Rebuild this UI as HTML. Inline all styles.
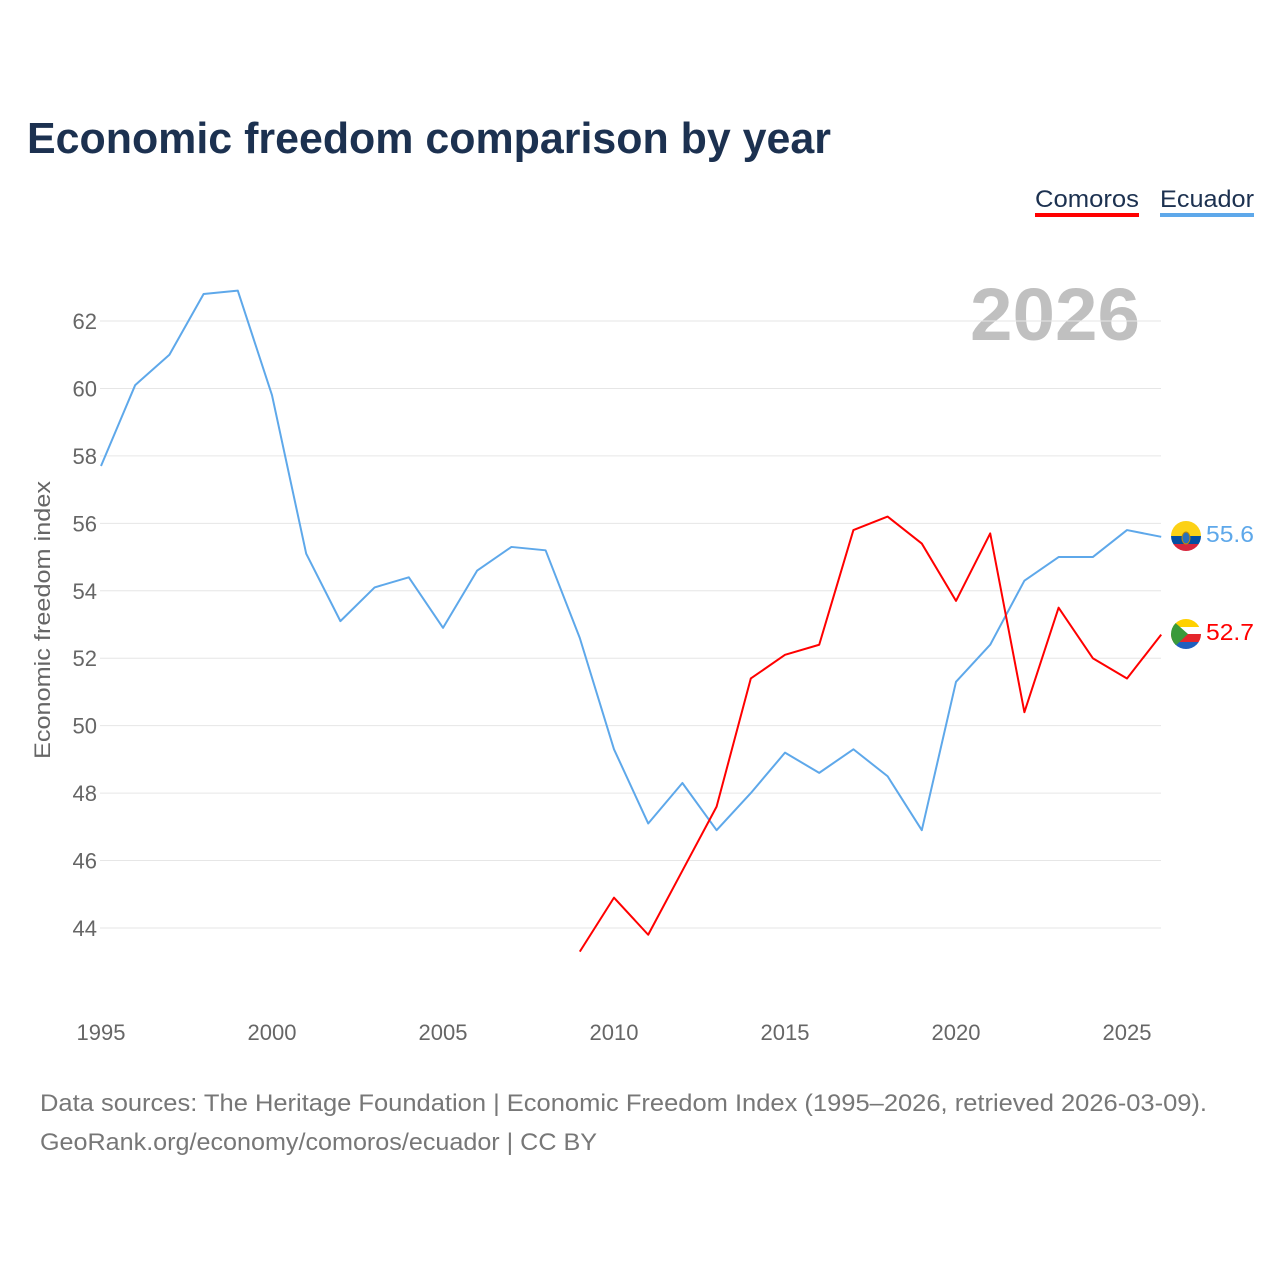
<!DOCTYPE html>
<html><head><meta charset="utf-8"><style>
body{margin:0;background:#fff;font-family:"Liberation Sans",sans-serif;}
svg{display:block}
</style></head><body>
<svg id="chart" width="1280" height="1280">
<text x="27" y="153" font-size="44" font-weight="bold" fill="#1c3150" textLength="804" lengthAdjust="spacingAndGlyphs">Economic freedom comparison by year</text>
<g>
<text x="1035" y="207" font-size="24" fill="#1c3150" textLength="104" lengthAdjust="spacingAndGlyphs">Comoros</text>
<rect x="1035" y="213" width="104" height="4" fill="#ff0000"/>
<text x="1160" y="207" font-size="24" fill="#1c3150" textLength="94" lengthAdjust="spacingAndGlyphs">Ecuador</text>
<rect x="1160" y="213" width="94" height="4" fill="#5ea8ea"/>
</g>
<text x="1140" y="340" font-size="74" font-weight="bold" fill="#c0c0c0" text-anchor="end" textLength="170" lengthAdjust="spacingAndGlyphs">2026</text>
<text transform="translate(50,620) rotate(-90)" font-size="22" fill="#666" text-anchor="middle" textLength="278" lengthAdjust="spacingAndGlyphs">Economic freedom index</text>
<g id="grid"></g><g id="lines"></g>
<g>
<clipPath id="c1"><circle cx="1186" cy="536" r="15"/></clipPath>
<g clip-path="url(#c1)"><rect x="1171" y="521" width="30" height="15" fill="#fcd116"/><rect x="1171" y="536" width="30" height="8" fill="#034ea2"/><rect x="1171" y="544" width="30" height="8" fill="#d7263d"/></g>
<ellipse cx="1186" cy="538" rx="4" ry="6" fill="#2a6fbb" stroke="#c58a00"/>
</g>
<g>
<clipPath id="c2"><circle cx="1186" cy="634" r="15"/></clipPath>
<g clip-path="url(#c2)"><rect x="1171" y="619" width="30" height="8" fill="#ffd100"/><rect x="1171" y="627" width="30" height="7" fill="#fff"/><rect x="1171" y="634" width="30" height="8" fill="#e4262c"/><rect x="1171" y="642" width="30" height="8" fill="#1f5fbf"/><polygon points="1171,619 1188,634 1171,650" fill="#3a9a3a"/></g>
</g>
<text x="1206" y="542" font-size="23" fill="#5ea8ea" textLength="48" lengthAdjust="spacingAndGlyphs">55.6</text>
<text x="1206" y="640" font-size="23" fill="#ff0000" textLength="48" lengthAdjust="spacingAndGlyphs">52.7</text>
<text x="40" y="1111" font-size="24" fill="#777" textLength="1167" lengthAdjust="spacingAndGlyphs">Data sources: The Heritage Foundation | Economic Freedom Index (1995–2026, retrieved 2026-03-09).</text>
<text x="40" y="1150" font-size="24" fill="#777" textLength="557" lengthAdjust="spacingAndGlyphs">GeoRank.org/economy/comoros/ecuador | CC BY</text>
</svg>
<script>
const ecuadorYears=[1995,1996,1997,1998,1999,2000,2001,2002,2003,2004,2005,2006,2007,2008,2009,2010,2011,2012,2013,2014,2015,2016,2017,2018,2019,2020,2021,2022,2023,2024,2025,2026];
const ecuadorValues=[57.7,60.1,61.0,62.8,62.9,59.8,55.1,53.1,54.1,54.4,52.9,54.6,55.3,55.2,52.6,49.3,47.1,48.3,46.9,48.0,49.2,48.6,49.3,48.5,46.9,51.3,52.4,54.3,55.0,55.0,55.8,55.6];
const comorosYears=[2009,2010,2011,2012,2013,2014,2015,2016,2017,2018,2019,2020,2021,2022,2023,2024,2025,2026];
const comorosValues=[43.3,44.9,43.8,45.7,47.6,51.4,52.1,52.4,55.8,56.2,55.4,53.7,55.7,50.4,53.5,52.0,51.4,52.7];
const yTicks=[44,46,48,50,52,54,56,58,60,62];
const xTicks=[1995,2000,2005,2010,2015,2020,2025];
const NS="http://www.w3.org/2000/svg";
const xs=y=>101+(y-1995)*(1127-101)/30;
const ys=v=>321+(62-v)*(928-321)/18;
function mk(t,a,p){const e=document.createElementNS(NS,t);for(const k in a)e.setAttribute(k,a[k]);p.appendChild(e);return e;}
const g=document.getElementById('grid');
yTicks.forEach(v=>{
 const l=mk('line',{x1:100,x2:1161,y1:ys(v),y2:ys(v),stroke:'#e6e6e6','stroke-width':1},g);
 
 
 const t=mk('text',{x:97,y:ys(v)+8,'font-size':22,fill:'#666','text-anchor':'end'},g);
 t.textContent=v;
 
 
});
xTicks.forEach(y=>{
 const t=mk('text',{x:xs(y),y:1040,'font-size':22,fill:'#666','text-anchor':'middle'},g);
 t.textContent=y;
 
 
});
const L=document.getElementById('lines');
function line(yrs,vals,col,name){
 const p=mk('polyline',{points:yrs.map((y,i)=>xs(y)+','+ys(vals[i])).join(' '),fill:'none',stroke:col,'stroke-width':2,'stroke-linejoin':'round'},L);
 
 
}
line(ecuadorYears,ecuadorValues,'#5ea8ea','ecuador-line');
line(comorosYears,comorosValues,'#ff0000','comoros-line');
</script>
</body></html>
